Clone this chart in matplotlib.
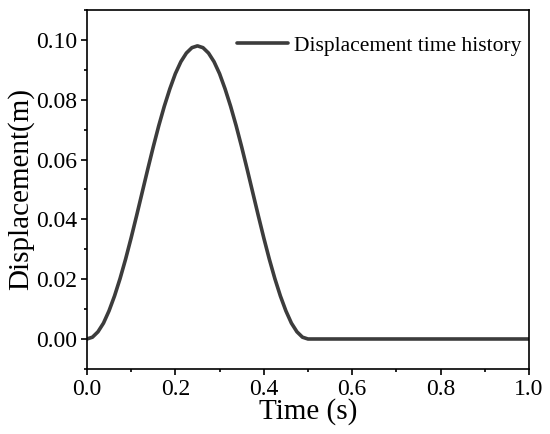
import matplotlib
matplotlib.use("Agg")
import matplotlib.pyplot as plt
from matplotlib.ticker import MultipleLocator

# displacement time history (t in s, d in m)
time_s = [0.0, 0.0125, 0.025, 0.0375, 0.05, 0.0625, 0.075, 0.0875, 0.1, 0.1125,
          0.125, 0.1375, 0.15, 0.1625, 0.175, 0.1875, 0.2, 0.2125, 0.225, 0.2375,
          0.25, 0.2625, 0.275, 0.2875, 0.3, 0.3125, 0.325, 0.3375, 0.35, 0.3625,
          0.375, 0.3875, 0.4, 0.4125, 0.425, 0.4375, 0.45, 0.4625, 0.475, 0.4875,
          0.5, 0.75, 1.0]
disp_m = [0.0, 0.0006, 0.0024, 0.0053, 0.0094, 0.0144, 0.0202, 0.0267, 0.0338, 0.0413,
          0.049, 0.0567, 0.0642, 0.0713, 0.0778, 0.0836, 0.0887, 0.0927, 0.0956, 0.0974,
          0.098, 0.0974, 0.0956, 0.0927, 0.0887, 0.0836, 0.0778, 0.0713, 0.0642, 0.0567,
          0.049, 0.0413, 0.0338, 0.0267, 0.0202, 0.0144, 0.0094, 0.0053, 0.0024, 0.0006,
          0.0, 0.0, 0.0]
legend_label = "Displacement time history"

plt.rcParams['font.family'] = ['Liberation Serif', 'DejaVu Serif']

fig = plt.figure(figsize=(5.5, 4.34), dpi=100)
ax = fig.add_axes([0.158, 0.150, 0.804, 0.827])

ax.plot(time_s, disp_m, color='#3c3c3c', lw=2.6, label=legend_label,
        solid_joinstyle='round', solid_capstyle='round')

ax.set_xlim(0, 1.0)
ax.set_ylim(-0.01, 0.11)
ax.xaxis.set_major_locator(MultipleLocator(0.2))
ax.xaxis.set_minor_locator(MultipleLocator(0.1))
ax.yaxis.set_major_locator(MultipleLocator(0.02))
ax.yaxis.set_minor_locator(MultipleLocator(0.01))
ax.xaxis.set_major_formatter(plt.FormatStrFormatter('%.1f'))
ax.yaxis.set_major_formatter(plt.FormatStrFormatter('%.2f'))

ax.tick_params(which='major', direction='out', length=4, width=1.2,
               labelsize=17, pad=3)
ax.tick_params(which='minor', direction='out', length=2.5, width=1.2)
for s in ax.spines.values():
    s.set_linewidth(1.2)

ax.set_xlabel("Time (s)", fontsize=21, labelpad=-1)
ax.set_ylabel("Displacement(m)", fontsize=21, labelpad=1)

ax.legend(loc='upper right', frameon=False, fontsize=15.5,
          handlelength=2.4, handletextpad=0.25,
          bbox_to_anchor=(1.016, 0.97), borderaxespad=0.3)

fig.savefig("out.png", dpi=100)
